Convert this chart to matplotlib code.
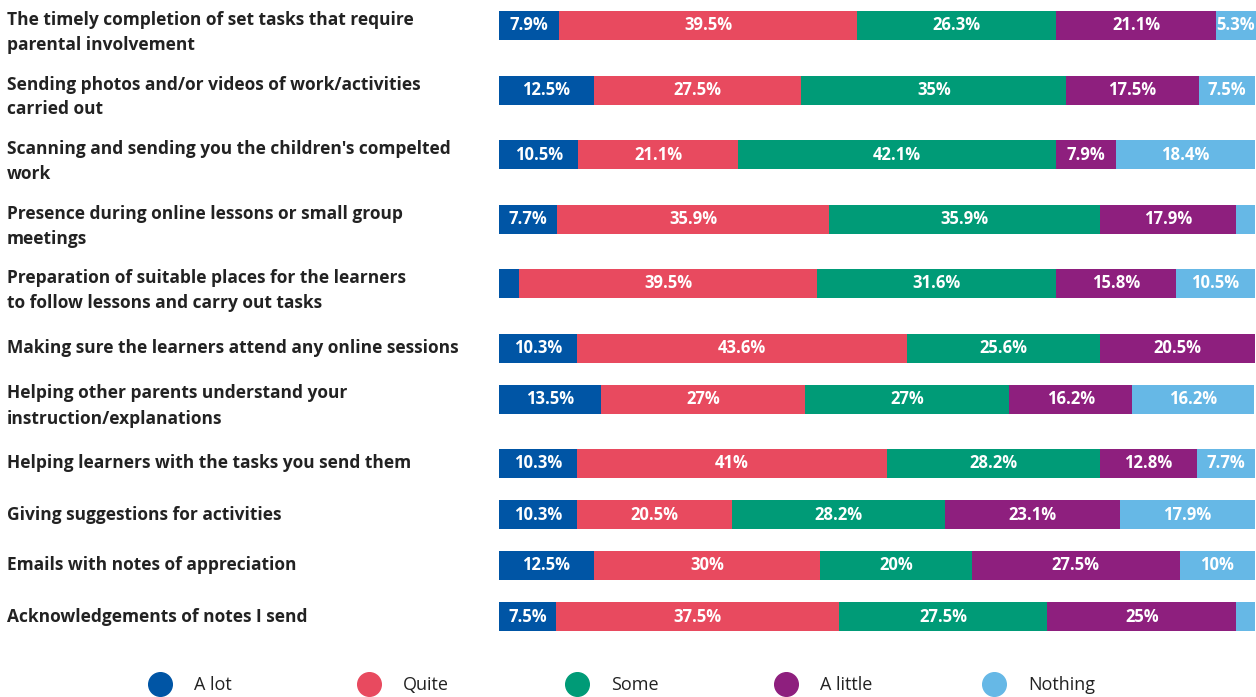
import numpy as np
import matplotlib.pyplot as plt
from matplotlib.lines import Line2D

plt.rcParams['font.family'] = ['Open Sans', 'DejaVu Sans']

items = [
    "The timely completion of set tasks that require\nparental involvement",
    "Sending photos and/or videos of work/activities\ncarried out",
    "Scanning and sending you the children's compelted\nwork",
    "Presence during online lessons or small group\nmeetings",
    "Preparation of suitable places for the learners\nto follow lessons and carry out tasks",
    "Making sure the learners attend any online sessions",
    "Helping other parents understand your\ninstruction/explanations",
    "Helping learners with the tasks you send them",
    "Giving suggestions for activities",
    "Emails with notes of appreciation",
    "Acknowledgements of notes I send",
]
levels = ["A lot", "Quite", "Some", "A little", "Nothing"]
colors = ["#0055a5", "#e84a5f", "#009b77", "#8e1f7e", "#66b8e6"]

a_lot    = [7.9, 12.5, 10.5, 7.7, 2.6, 10.3, 13.5, 10.3, 10.3, 12.5, 7.5]
quite    = [39.5, 27.5, 21.1, 35.9, 39.5, 43.6, 27, 41, 20.5, 30, 37.5]
some     = [26.3, 35, 42.1, 35.9, 31.6, 25.6, 27, 28.2, 28.2, 20, 27.5]
a_little = [21.1, 17.5, 7.9, 17.9, 15.8, 20.5, 16.2, 12.8, 23.1, 27.5, 25]
nothing  = [5.3, 7.5, 18.4, 2.6, 10.5, 0, 16.2, 7.7, 17.9, 10, 2.5]

series = [a_lot, quite, some, a_little, nothing]

W, H = 1256, 697
fig = plt.figure(figsize=(W / 100, H / 100), dpi=100)

# each row block is taller when its label wraps onto two lines;
# the bar sits at the top of its block
bar_h = 29
block = [64.5 if "\n" in s else 51 for s in items]
centers = 25.5 + np.concatenate([[0], np.cumsum(block[:-1])])

ax = fig.add_axes([499 / W, 0, 757 / W, 1])
left = np.zeros(len(items))
for vals, col in zip(series, colors):
    vals = np.array(vals, dtype=float)
    bars = ax.barh(centers, vals, left=left, height=bar_h, color=col, linewidth=0)
    for b, v in zip(bars, vals):
        if v >= 5:
            ax.text(b.get_x() + b.get_width() / 2, b.get_y() + b.get_height() / 2,
                    f"{v:g}%", ha='center', va='center', color='white',
                    fontsize=12, fontweight='bold')
    left += vals

ax.set_xlim(0, left.max())
ax.set_ylim(H, 0)
ax.axis('off')

# category labels on the left
for name, yc in zip(items, centers):
    if "\n" in name:
        fig.text(7 / W, 1 - (yc - 14.5) / H, name, ha='left', va='top', fontsize=12.5,
                 fontweight='bold', color='#222222', linespacing=1.5)
    else:
        fig.text(7 / W, 1 - yc / H, name, ha='left', va='center', fontsize=12.5,
                 fontweight='bold', color='#222222')

# legend row along the bottom
for i, (name, col) in enumerate(zip(levels, colors)):
    mx = 160 + 208.5 * i
    fig.add_artist(Line2D([mx / W], [1 - 684 / H], marker='o', markersize=17,
                          color=col, linestyle='none', transform=fig.transFigure))
    fig.text((mx + 34) / W, 1 - 685 / H, name, ha='left', va='center',
             fontsize=13, color='#222222')

fig.savefig("out.png", dpi=100)
